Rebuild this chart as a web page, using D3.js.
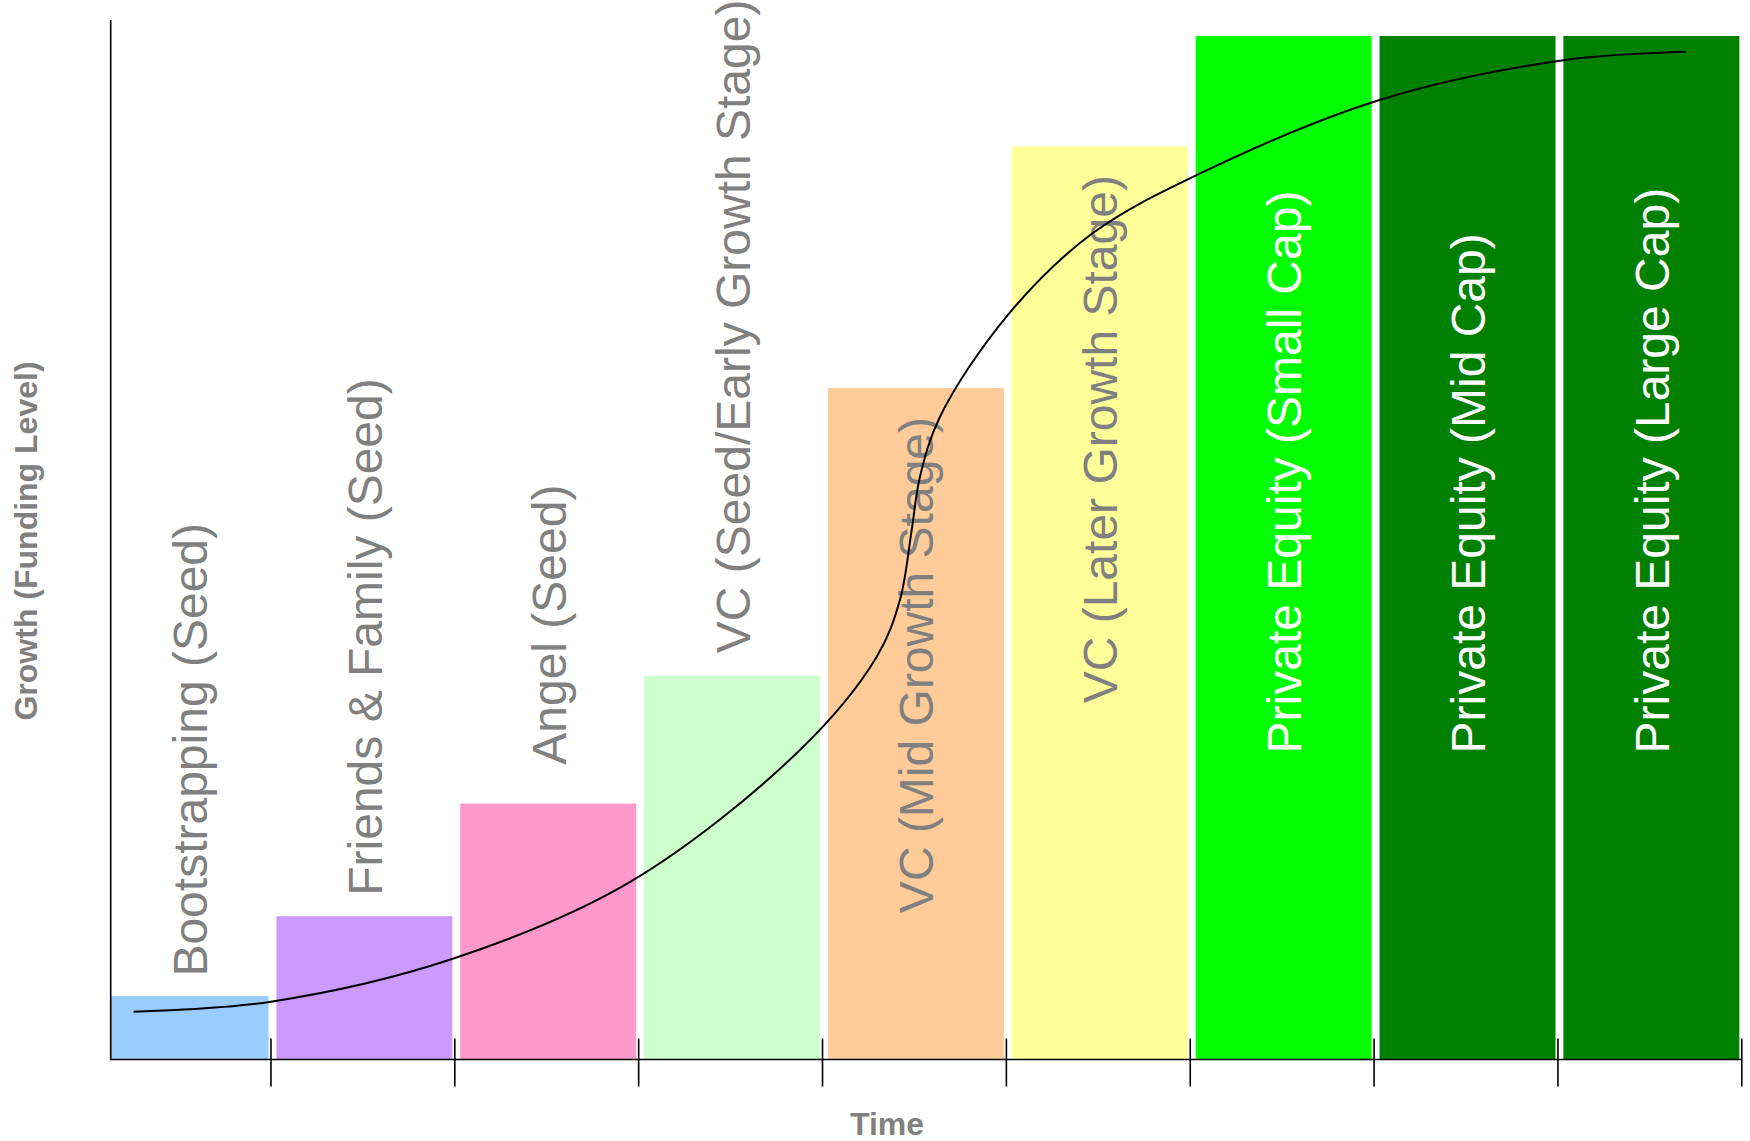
<!DOCTYPE html>
<html>
<head>
<meta charset="utf-8">
<script src="https://cdn.jsdelivr.net/npm/d3@7"></script>
<style>
  html, body { margin: 0; padding: 0; background: #ffffff; }
  svg { display: block; }
  text { font-family: "Liberation Sans", Arial, Helvetica, sans-serif; }
</style>
</head>
<body>
<script>
// ---------------- data ----------------
const categories = [
  "Bootstrapping (Seed)",
  "Friends & Family (Seed)",
  "Angel (Seed)",
  "VC (Seed/Early Growth Stage)",
  "VC (Mid Growth Stage)",
  "VC (Later Growth Stage)",
  "Private Equity (Small Cap)",
  "Private Equity (Mid Cap)",
  "Private Equity (Large Cap)"
];
const fundingLevels = [6.2, 14.0, 25.0, 37.5, 65.6, 89.2, 100, 100, 100];
const labelLevels   = [8.1, 16.0, 28.8, 39.7, 14.3, 34.8, 29.9, 29.9, 29.9];
const barColors   = ["#99ccff", "#cc99ff", "#ff99cc", "#ccffcc", "#ffcc99", "#ffff99", "#00ff00", "#008000", "#008000"];
const labelColors = ["#808080", "#808080", "#808080", "#808080", "#808080", "#808080", "#ffffff", "#ffffff", "#ffffff"];

// growth curve (x in stage units: stage i spans [i, i+1]; y in funding level units)
const curveX = [0.253, 1.000, 1.985, 2.956, 3.877, 4.295, 4.421, 4.485, 4.530, 4.639, 5.003, 5.463, 6.048, 7.043, 8.039, 8.696];
const curveY = [4.67, 5.65, 9.82, 17.37, 30.24, 39.36, 44.89, 51.73, 56.94, 62.80, 72.64, 80.65, 86.52, 93.82, 97.66, 98.47];

const xTitle = "Time";
const yTitle = "Growth (Funding Level)";

// ---------------- layout ----------------
const W = 1750, H = 1141;
const axisX = 110.7;           // y-axis position
const tickStart = 87.1, tickEnd = 1741.8;
const baseY = 1059.5, topY = 36, axisTop = 20;

const svg = d3.select("body").append("svg").attr("width", W).attr("height", H);

const x = d3.scaleBand().domain(categories).range([tickStart + 1.5, tickEnd + 1.5])
  .paddingInner(0.043).paddingOuter(0.0215);
const xs = d3.scaleLinear().domain([0, categories.length]).range([tickStart, tickEnd]);
const y = d3.scaleLinear().domain([0, 100]).range([baseY, topY]);

svg.append("clipPath").attr("id", "plotclip")
  .append("rect").attr("x", axisX).attr("y", 0).attr("width", W - axisX).attr("height", H);

const data = categories.map((c, i) => ({ c, v: fundingLevels[i], l: labelLevels[i], col: barColors[i], tc: labelColors[i] }));

// bars
svg.append("g").attr("clip-path", "url(#plotclip)")
  .selectAll("rect").data(data).join("rect")
  .attr("x", d => x(d.c))
  .attr("y", d => y(d.v))
  .attr("width", x.bandwidth())
  .attr("height", d => y(0) - y(d.v))
  .attr("fill", d => d.col);

// labels
const fs = 48;
const visibleCenter = d => {
  const a = Math.max(x(d.c), axisX), b = x(d.c) + x.bandwidth();
  return (a + b) / 2;
};
svg.append("g").selectAll("text").data(data).join("text")
  .attr("transform", d => `translate(${visibleCenter(d) + fs * 0.729 / 2},${y(d.l)}) rotate(-90)`)
  .attr("text-anchor", "start")
  .attr("font-size", fs)
  .attr("fill", d => d.tc)
  .text(d => d.c);

// growth curve
const pts = curveX.map((v, i) => [xs(v), y(curveY[i])]);
svg.append("path")
  .attr("d", d3.line().curve(d3.curveCatmullRom.alpha(0.5))(pts))
  .attr("fill", "none").attr("stroke", "#000").attr("stroke-width", 2);

// axes
const axisG = svg.append("g").attr("stroke", "#000").attr("stroke-width", 1.6);
axisG.append("line").attr("x1", axisX).attr("x2", axisX).attr("y1", axisTop).attr("y2", baseY + 0.8);
axisG.append("line").attr("x1", axisX).attr("x2", xs(categories.length)).attr("y1", baseY).attr("y2", baseY);
axisG.selectAll("line.tick").data(d3.range(1, categories.length + 1)).join("line")
  .attr("class", "tick")
  .attr("x1", d => xs(d)).attr("x2", d => xs(d))
  .attr("y1", baseY - 21).attr("y2", baseY + 27);

// axis titles
svg.append("text")
  .attr("x", 887).attr("y", 1135)
  .attr("text-anchor", "middle").attr("font-size", 32).attr("font-weight", "bold")
  .attr("fill", "#808080").text(xTitle);
svg.append("text")
  .attr("transform", `translate(37,541) rotate(-90)`)
  .attr("text-anchor", "middle").attr("font-size", 32).attr("font-weight", "bold")
  .attr("fill", "#808080").text(yTitle);
</script>
</body>
</html>
